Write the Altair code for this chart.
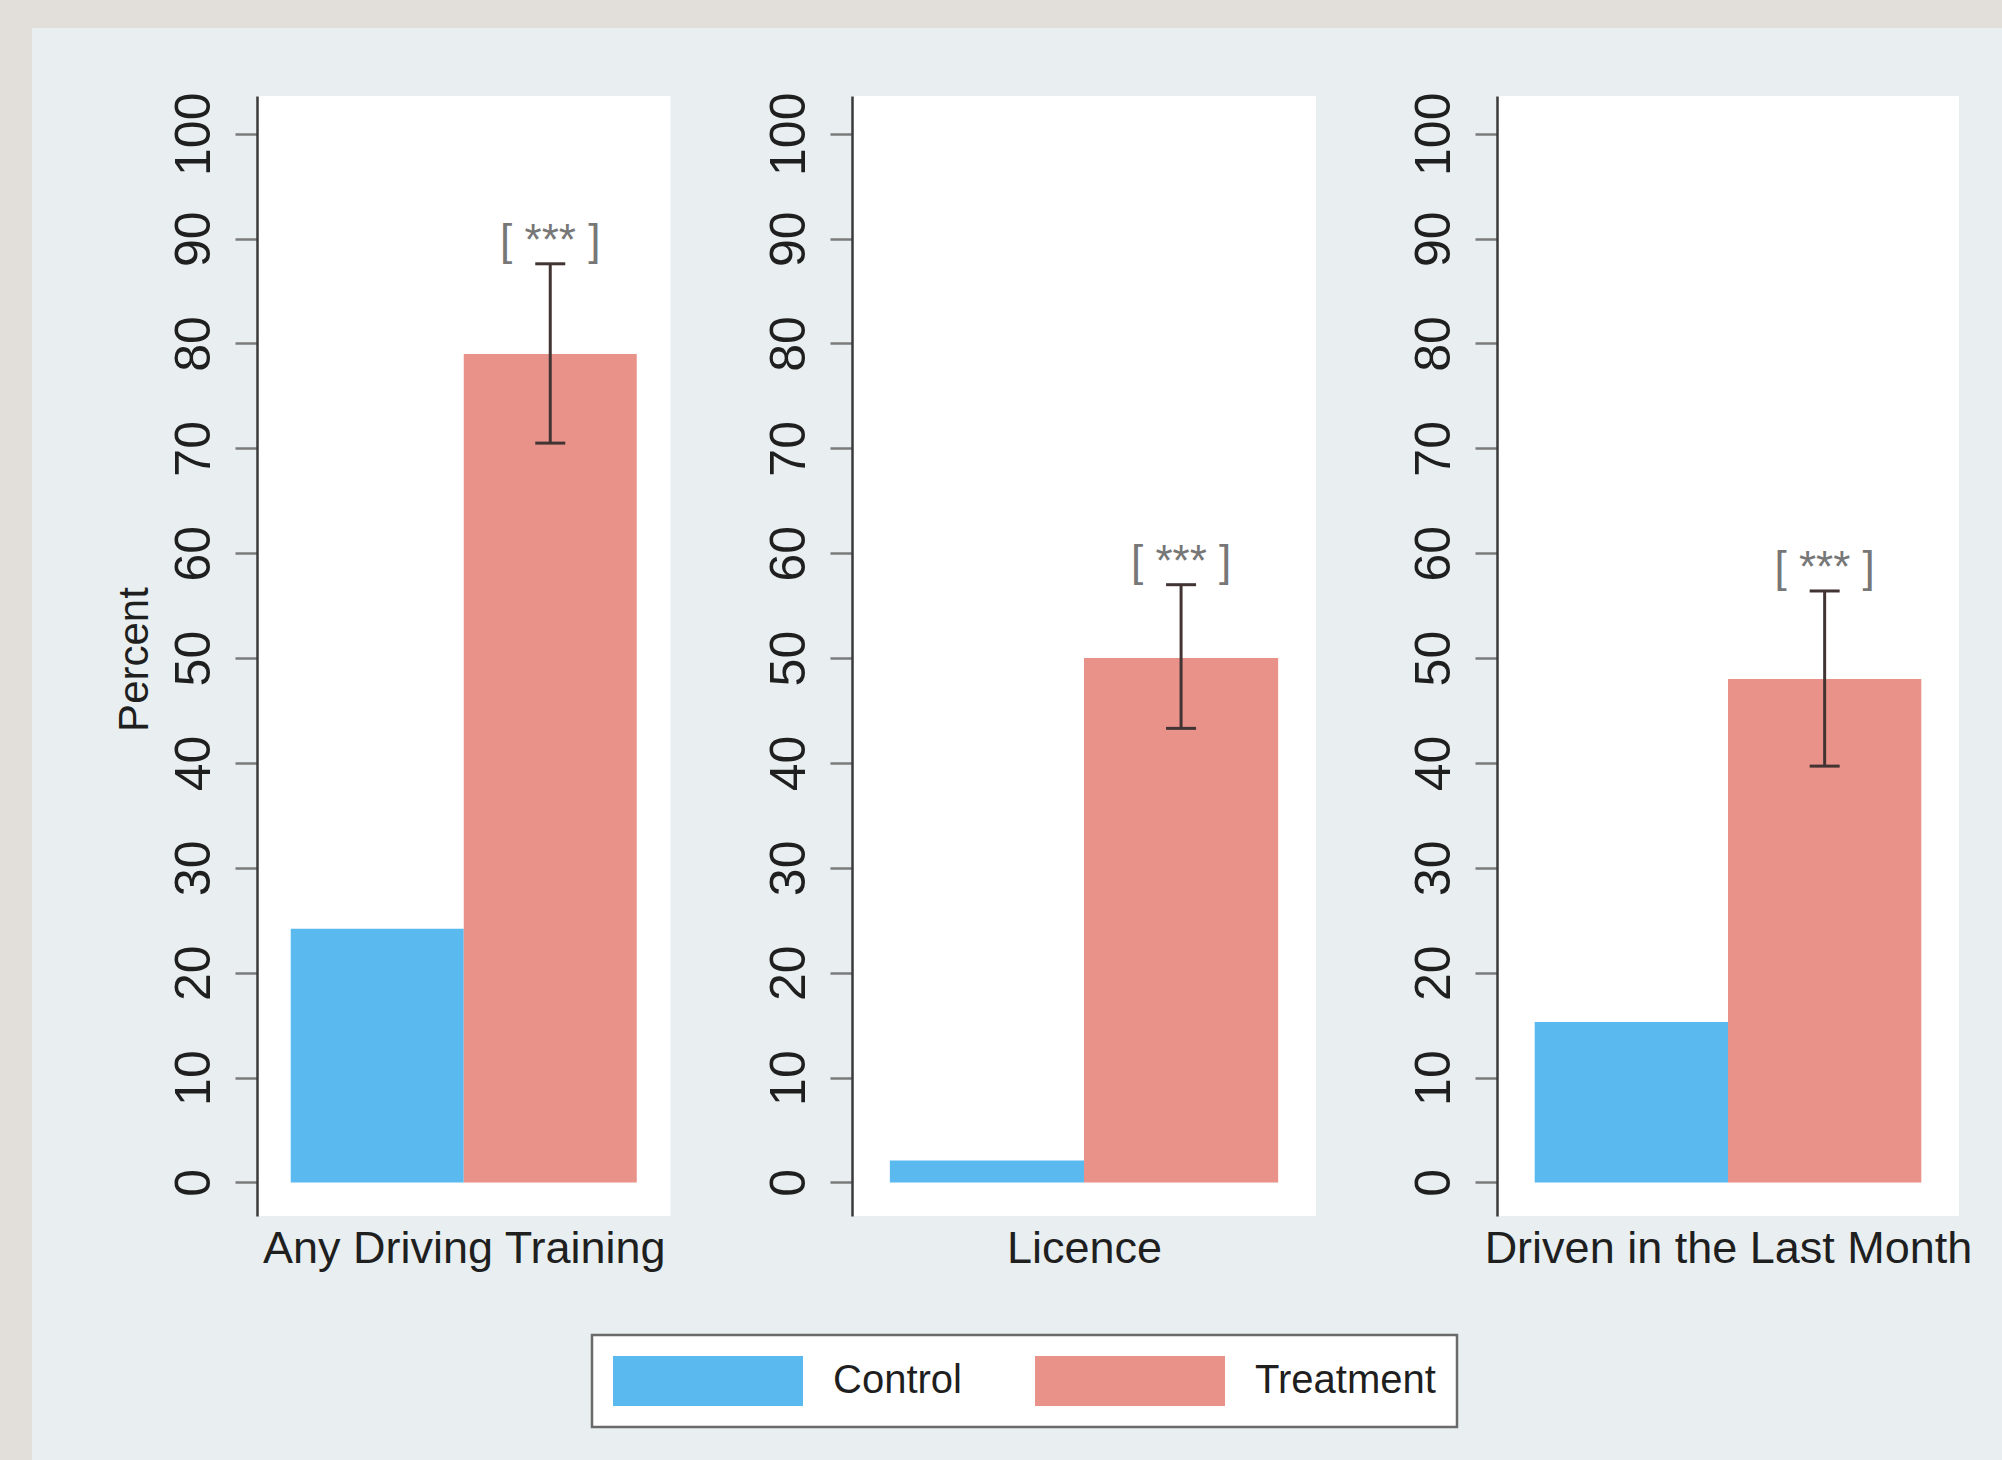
import altair as alt
import pandas as pd

# ---- data -------------------------------------------------------------
categories = ["Any Driving Training", "Licence", "Driven in the Last Month"]
groups = ["Control", "Treatment"]
control = [24.2, 2.1, 15.3]
treatment = [79.0, 50.0, 48.0]
ci_low = [70.5, 43.3, 39.7]
ci_high = [87.6, 57.0, 56.4]
stars = ["[ *** ]", "[ *** ]", "[ *** ]"]
y_ticks = list(range(0, 101, 10))

# ---- style ------------------------------------------------------------
BG = "#e9eff1"
EDGE = "#e2dfdb"
COLORS = ["#5ab9ee", "#e8928a"]
FONT = "Liberation Sans"
INK = "#1f1f1f"
ERR = "#433434"

PANEL_W = [413.5, 464, 462]
PANEL_H = 1120
Y_DOMAIN = [-3.2, 103.6]

bars = pd.DataFrame({
    "category": [c for c in categories for _ in groups],
    "group": groups * len(categories),
    "percent": [v for pair in zip(control, treatment) for v in pair],
})
ci = pd.DataFrame({
    "category": categories,
    "group": ["Treatment"] * len(categories),
    "lo": ci_low,
    "hi": ci_high,
    "stars": stars,
})

y_scale = alt.Scale(domain=Y_DOMAIN, nice=False, zero=False)
x_scale = alt.Scale(domain=groups, paddingInner=0, paddingOuter=0.195)

legend = alt.Legend(
    title=None,
    orient="none",
    legendX=592,
    legendY=1335,
    direction="horizontal",
    symbolType="M-1,-0.263L1,-0.263L1,0.263L-1,0.263Z",
    symbolSize=36100,
    symbolStrokeWidth=0,
    symbolOpacity=1,
    clipHeight=50,
    labelFont=FONT,
    labelFontSize=40,
    labelColor=INK,
    labelOffset=30,
    labelLimit=0,
    columnPadding=73,
    padding=21,
    strokeColor="#6a6a6a",
    fillColor="white",
)


def panel(i):
    cat = categories[i]
    w = PANEL_W[i]
    y_axis = alt.Axis(
        values=y_ticks,
        title="Percent" if i == 0 else "",
        grid=False,
        labelAngle=270,
        labelAlign="center",
        labelBaseline="alphabetic",
        labelPadding=26,
        labelFont=FONT,
        labelFontSize=50,
        labelColor=INK,
        tickSize=22,
        tickWidth=2.5,
        tickColor="#7a7a7a",
        domainColor="#3a3a3a",
        domainWidth=2.5,
        titleFont=FONT,
        titleFontSize=42,
        titleFontWeight="normal",
        titleColor=INK,
        titleAngle=270,
        titleAlign="center",
        titleBaseline="alphabetic",
        titleX=-109.5,
        titleY=563,
    )
    x_axis = alt.Axis(
        title=cat,
        labels=False,
        ticks=False,
        domain=False,
        titleFont=FONT,
        titleFontSize=45,
        titleFontWeight="normal",
        titleColor=INK,
        titleBaseline="alphabetic",
        titleX=w / 2,
        titleY=46,
    )

    x_enc = alt.X("group:N", scale=x_scale, axis=x_axis)

    def y_enc(field):
        return alt.Y(field, scale=y_scale, axis=y_axis)

    base_bars = alt.Chart(bars).transform_filter(alt.datum.category == cat)
    base_ci = alt.Chart(ci).transform_filter(alt.datum.category == cat)

    bar = base_bars.mark_bar().encode(
        x=x_enc,
        y=y_enc("percent:Q"),
        y2=alt.datum(0),
        color=alt.Color("group:N", scale=alt.Scale(domain=groups, range=COLORS), legend=legend),
    )
    whisker = base_ci.mark_rule(color=ERR, strokeWidth=3).encode(
        x=x_enc, y=y_enc("lo:Q"), y2="hi:Q"
    )
    cap_lo = base_ci.mark_tick(color=ERR, size=30, thickness=3, opacity=1).encode(
        x=x_enc, y=y_enc("lo:Q")
    )
    cap_hi = base_ci.mark_tick(color=ERR, size=30, thickness=3, opacity=1).encode(
        x=x_enc, y=y_enc("hi:Q")
    )
    sig = base_ci.mark_text(
        baseline="bottom", align="center", font=FONT, fontSize=44, color="#777777"
    ).encode(x=x_enc, y=y_enc("hi:Q"), text="stars:N")
    return alt.layer(bar, whisker, cap_lo, cap_hi, sig).properties(
        width=w, height=PANEL_H, view=alt.ViewBackground(fill="white", strokeWidth=0)
    )


def filler(w, h, fill=None):
    # empty placeholder view; its only mark is an invisible point kept in the middle
    c = alt.Chart(pd.DataFrame({"k": [0]})).mark_point(opacity=0, size=1).encode(
        x=alt.value(w / 2), y=alt.value(h / 2)
    )
    if fill is not None:
        return c.properties(width=w, height=h, view=alt.ViewBackground(fill=fill, strokeWidth=0))
    return c.properties(width=w, height=h)


body = alt.hconcat(filler(43.5, 10), panel(0), panel(1), panel(2), spacing=181, bounds="flush")
right = alt.vconcat(filler(1970, 28, EDGE), body, spacing=68, bounds="flush")
chart = alt.hconcat(filler(32, 1460, EDGE), right, spacing=0, bounds="flush").properties(
    background=BG, padding=0
).configure_view(strokeWidth=0).configure_legend(strokeWidth=2.5)

chart.save("out.html", embed_options={"renderer": "svg", "actions": False})
